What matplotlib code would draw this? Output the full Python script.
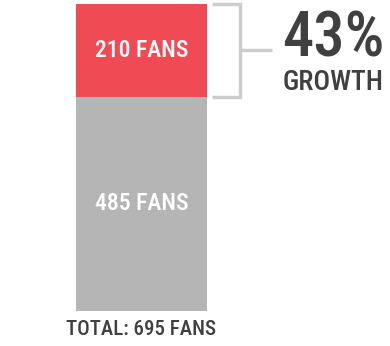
import matplotlib
matplotlib.use("Agg")
import matplotlib.pyplot as plt
from matplotlib import font_manager as fm

# data
segment_labels = ["485 FANS", "210 FANS"]
segment_values = [485, 210]
segment_colors = ["#b5b5b5", "#f04b55"]
total_label = "TOTAL: 695 FANS"
growth_value = "43%"
growth_word = "GROWTH"

def pick_font(cands):
    for c in cands:
        try:
            fm.findfont(fm.FontProperties(family=c), fallback_to_default=False)
            return c
        except Exception:
            continue
    return "DejaVu Sans"

cond = pick_font(["Roboto Condensed", "Liberation Sans Narrow", "DejaVu Sans Condensed", "Open Sans Condensed"])
fam = [cond, "DejaVu Sans"]

W, H = 390, 346
fig = plt.figure(figsize=(W / 100, H / 100), dpi=100)
fig.patch.set_facecolor("white")
ax = fig.add_axes([76 / W, (H - 311) / H, 131 / W, 307 / H])
ax.set_xlim(-0.5, 0.5)
ax.set_ylim(0, sum(segment_values))
ax.axis("off")

bottom = 0
for lab, v, c in zip(segment_labels, segment_values, segment_colors):
    ax.bar(0, v, width=1.0, bottom=bottom, color=c, linewidth=0)
    ax.text(0, bottom + v / 2, lab, ha="center", va="center", color="white",
            fontsize=17, family=fam, fontweight="medium")
    bottom += v

total = sum(segment_values)
top_base = segment_values[0]
# bracket
bc = "#cccccc"
x0, x1, x2 = 0.54, 0.75, 0.995
ax.plot([x0, x1, x1, x0], [total, total, top_base, top_base], color=bc, lw=2.5,
        clip_on=False, solid_joinstyle="miter", solid_capstyle="butt")
mid = (total + top_base) / 2
ax.plot([x1, x2], [mid, mid], color=bc, lw=2.5, clip_on=False, solid_capstyle="butt")

ax.text(1.075, total - 12, growth_value, ha="left", va="top", color="#404040",
        fontsize=45, family=fam, fontweight="medium", clip_on=False)
ax.text(1.075, top_base + 2, growth_word, ha="left", va="bottom", color="#404040",
        fontsize=20, family=fam, fontweight="medium", clip_on=False)

ax.text(0, -20, total_label, ha="center", va="top", color="#404040",
        fontsize=15, family=fam, fontweight="medium", clip_on=False)

fig.savefig("out.png", dpi=100, facecolor="white")
